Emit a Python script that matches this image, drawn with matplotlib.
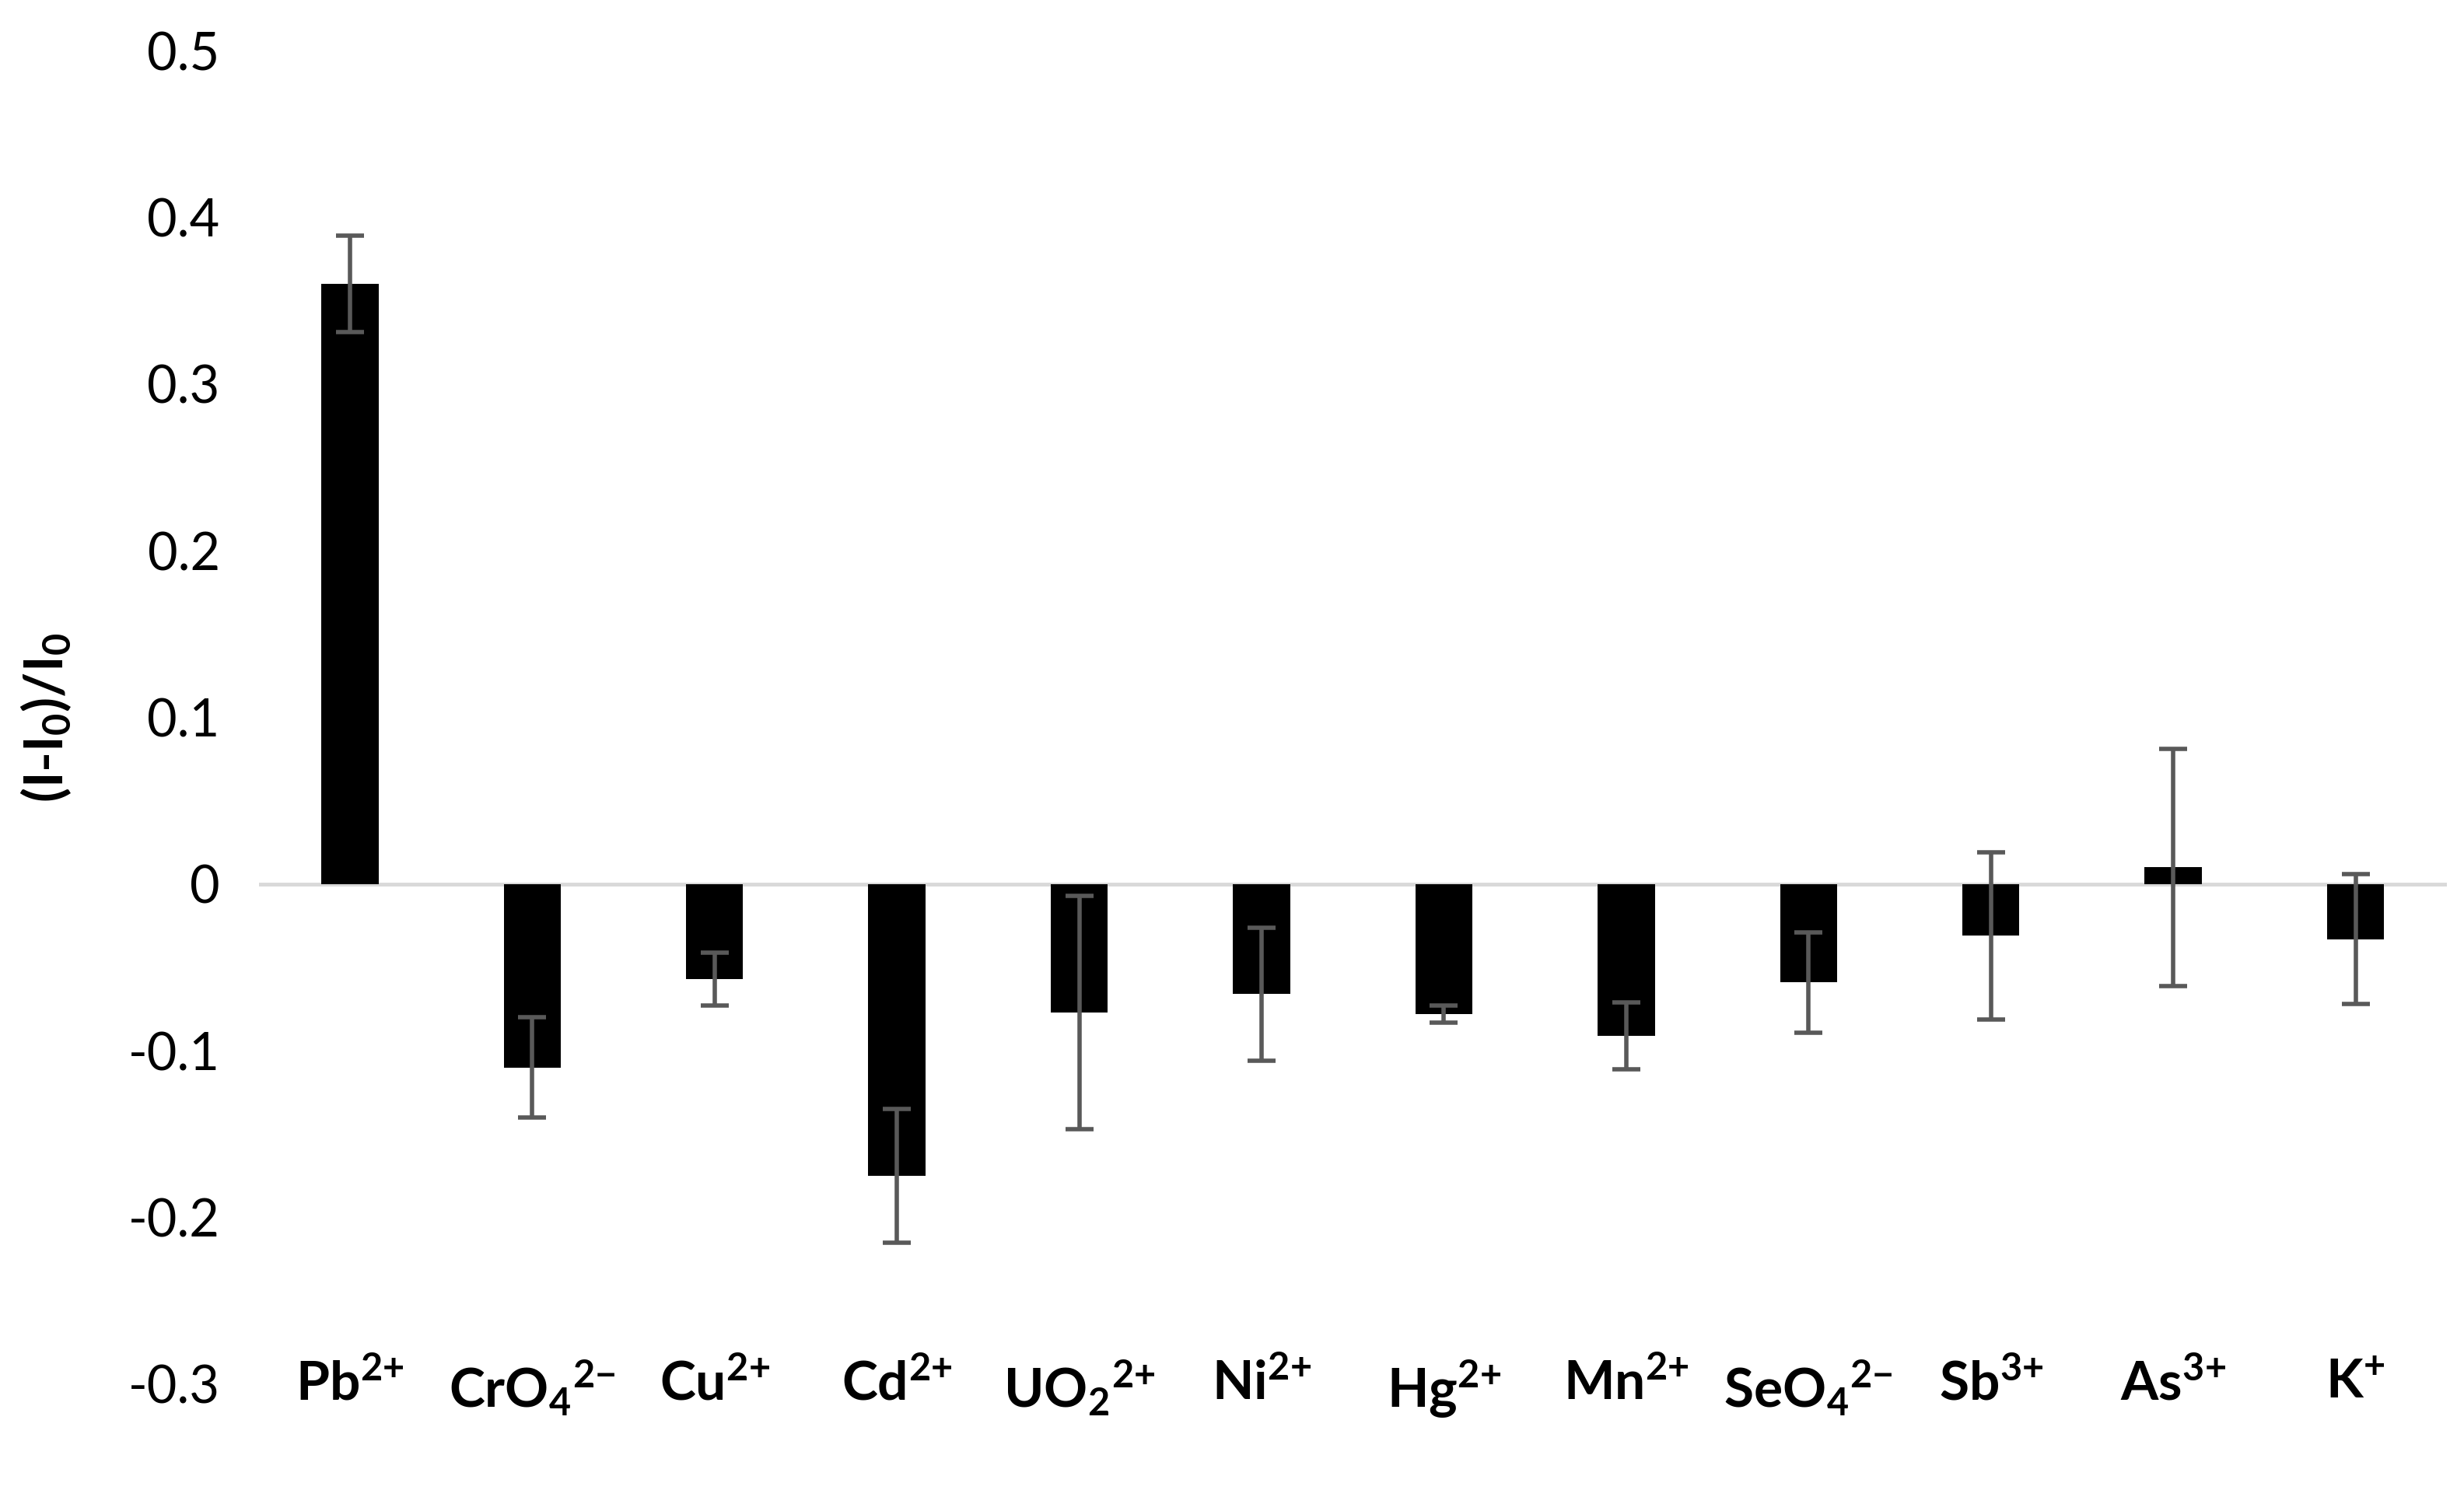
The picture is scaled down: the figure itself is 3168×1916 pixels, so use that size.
import matplotlib
matplotlib.use('Agg')
import matplotlib.pyplot as plt

# Data
ions = ['Pb$^{\\mathbf{2{+}}}$', 'CrO$_{\\mathbf{4}}$$^{\\mathbf{2{-}}}$', 'Cu$^{\\mathbf{2{+}}}$',
        'Cd$^{\\mathbf{2{+}}}$', 'UO$_{\\mathbf{2}}$$^{\\mathbf{2{+}}}$', 'Ni$^{\\mathbf{2{+}}}$',
        'Hg$^{\\mathbf{2{+}}}$', 'Mn$^{\\mathbf{2{+}}}$', 'SeO$_{\\mathbf{4}}$$^{\\mathbf{2{-}}}$',
        'Sb$^{\\mathbf{3{+}}}$', 'As$^{\\mathbf{3{+}}}$', 'K$^{\\mathbf{+}}$']
values = [0.360, -0.110, -0.057, -0.175, -0.077, -0.066, -0.078, -0.091, -0.059, -0.031, 0.010, -0.033]
errors = [0.029, 0.030, 0.016, 0.040, 0.070, 0.040, 0.005, 0.020, 0.030, 0.050, 0.071, 0.039]
yticks = [-0.3, -0.2, -0.1, 0, 0.1, 0.2, 0.3, 0.4, 0.5]
ytick_labels = ['-0.3', '-0.2', '-0.1', '0', '0.1', '0.2', '0.3', '0.4', '0.5']

plt.rcParams['font.family'] = ['Lato', 'DejaVu Sans']
plt.rcParams['mathtext.fontset'] = 'custom'
plt.rcParams['mathtext.rm'] = 'Lato'
plt.rcParams['mathtext.bf'] = 'Lato:bold'
plt.rcParams['mathtext.it'] = 'Lato:italic'

fig = plt.figure(figsize=(31.68, 19.16), dpi=100)
ax = fig.add_axes([0.105, 0.071, 0.888, 0.895])

x = list(range(len(ions)))
ax.axhline(0, color='#d9d9d9', lw=3.5, zorder=1)
ax.bar(x, values, width=0.313, color='black', zorder=2)
ax.errorbar(x, values, yerr=errors, fmt='none', ecolor='#595959',
            elinewidth=4, capsize=13, capthick=4, zorder=3)

ax.set_xlim(-0.5, len(ions) - 0.5)
ax.set_ylim(-0.3, 0.5)
ax.set_yticks(yticks)
ax.set_yticklabels(ytick_labels, fontsize=48)
ax.set_xticks(x)
ax.set_xticklabels(ions, fontsize=50, fontweight='bold')
ax.tick_params(axis='both', length=0)
ax.tick_params(axis='y', pad=36)
ax.tick_params(axis='x', pad=-24)
for s in ax.spines.values():
    s.set_visible(False)

ax.set_ylabel('(I-I$_{\\mathbf{0}}$)/I$_{\\mathbf{0}}$', fontsize=50, fontweight='bold')
ax.yaxis.set_label_coords(-0.085, 0.5)

fig.savefig('out.png', dpi=100, facecolor='white')
plt.close(fig)
